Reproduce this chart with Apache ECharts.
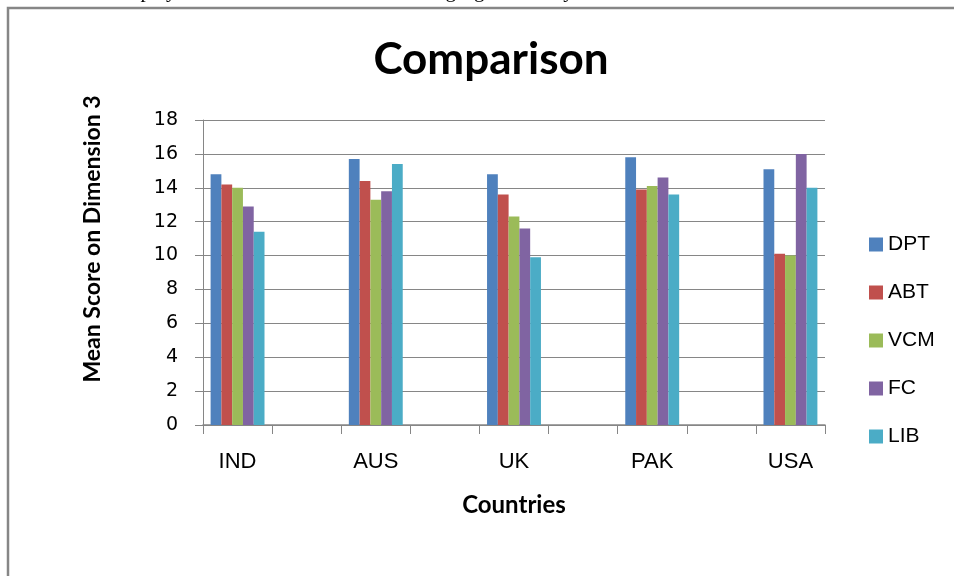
<!DOCTYPE html>
<html>
<head>
<meta charset="utf-8">
<script src="https://cdn.jsdelivr.net/npm/echarts@6/dist/echarts.min.js"></script>
<style>
html,body{margin:0;padding:0;background:#fff;}
#c{width:954px;height:576px;}
</style>
</head>
<body>
<div id="c"></div>
<script>
const countries = ['IND', 'AUS', 'UK', 'PAK', 'USA'];
const seriesNames = ['DPT', 'ABT', 'VCM', 'FC', 'LIB'];
const DPT = [14.8, 15.7, 14.8, 15.8, 15.1];
const ABT = [14.2, 14.4, 13.6, 13.9, 10.1];
const VCM = [14.0, 13.3, 12.3, 14.1, 10.0];
const FC  = [12.9, 13.8, 11.6, 14.6, 16.0];
const LIB = [11.4, 15.4, 9.9, 13.6, 14.0];
const yTicks = [0, 2, 4, 6, 8, 10, 12, 14, 16, 18];
const colors = ['#4F81BD', '#C0504D', '#9BBB59', '#8064A2', '#4BACC6'];

// The source sheet has an empty row between each country
const cats = [];
countries.forEach((c, i) => { cats.push(c); if (i < countries.length - 1) cats.push(''); });
function pad(arr) {
  const out = [];
  arr.forEach((v, i) => { out.push(v); if (i < arr.length - 1) out.push(null); });
  return out;
}
const values = [DPT, ABT, VCM, FC, LIB];
const gridColor = '#868686';

const chart = echarts.init(document.getElementById('c'));
chart.setOption({
  animation: false,
  backgroundColor: '#ffffff',
  color: colors,
  grid: { left: 203, right: 129, top: 120, bottom: 151, containLabel: false },
  legend: {
    orient: 'vertical',
    left: 869, top: 234,
    padding: 0,
    itemWidth: 14, itemHeight: 14, itemGap: 27,
    icon: 'rect',
    data: seriesNames,
    textStyle: { fontFamily: 'Liberation Sans', fontSize: 21, color: '#000', lineHeight: 14 }
  },
  xAxis: {
    type: 'category',
    data: cats,
    name: 'Countries',
    nameLocation: 'middle',
    nameGap: 68,
    nameTextStyle: { fontFamily: 'Lato', fontWeight: 'bold', fontSize: 24, color: '#000' },
    axisLine: { lineStyle: { color: gridColor, width: 1.5 } },
    axisTick: { show: true, length: 9, interval: 0, lineStyle: { color: gridColor } },
    axisLabel: { interval: 0, margin: 26, fontFamily: 'Liberation Sans', fontSize: 22, color: '#000' }
  },
  yAxis: {
    type: 'value',
    min: 0, max: 18, interval: 2,
    axisLine: { show: true, lineStyle: { color: gridColor } },
    axisTick: { show: true, length: 8, inside: false, lineStyle: { color: gridColor } },
    splitLine: { show: true, lineStyle: { color: gridColor, width: 1 } },
    axisLabel: {
      margin: 25, fontFamily: 'DejaVu Sans', fontSize: 19, color: '#000',
      formatter: v => (yTicks.indexOf(v) >= 0 ? String(v) : '')
    }
  },
  series: seriesNames.map((n, i) => ({
    name: n,
    type: 'bar',
    data: pad(values[i]),
    barGap: '0%',
    barCategoryGap: '22%',
    itemStyle: { color: colors[i] }
  })),
  graphic: [
    {
      type: 'rect',
      shape: { x: 8, y: 8, width: 1100, height: 800 },
      style: { fill: 'none', stroke: '#868686', lineWidth: 2.5 },
      silent: true
    },
    {
      type: 'text',
      x: 491, y: 60,
      style: {
        text: 'Comparison', fontFamily: 'Lato', fontWeight: 'bold', fontSize: 44, fill: '#000',
        align: 'center', verticalAlign: 'middle'
      }
    },
    {
      type: 'text',
      x: 93, y: 239,
      rotation: Math.PI / 2,
      style: {
        text: 'Mean Score on Dimension 3',
        fontFamily: 'Lato', fontWeight: 'bold', fontSize: 23, fill: '#000',
        align: 'center', verticalAlign: 'middle'
      }
    },
    {
      type: 'text',
      x: -20, y: 2,
      style: {
        text: 'of the countries displayed some variation. The following figure clearly illustrates the variation of the countries on this dimension',
        fontFamily: 'Liberation Serif', fontSize: 21, fill: '#000',
        verticalAlign: 'bottom'
      }
    }
  ]
});
</script>
</body>
</html>
